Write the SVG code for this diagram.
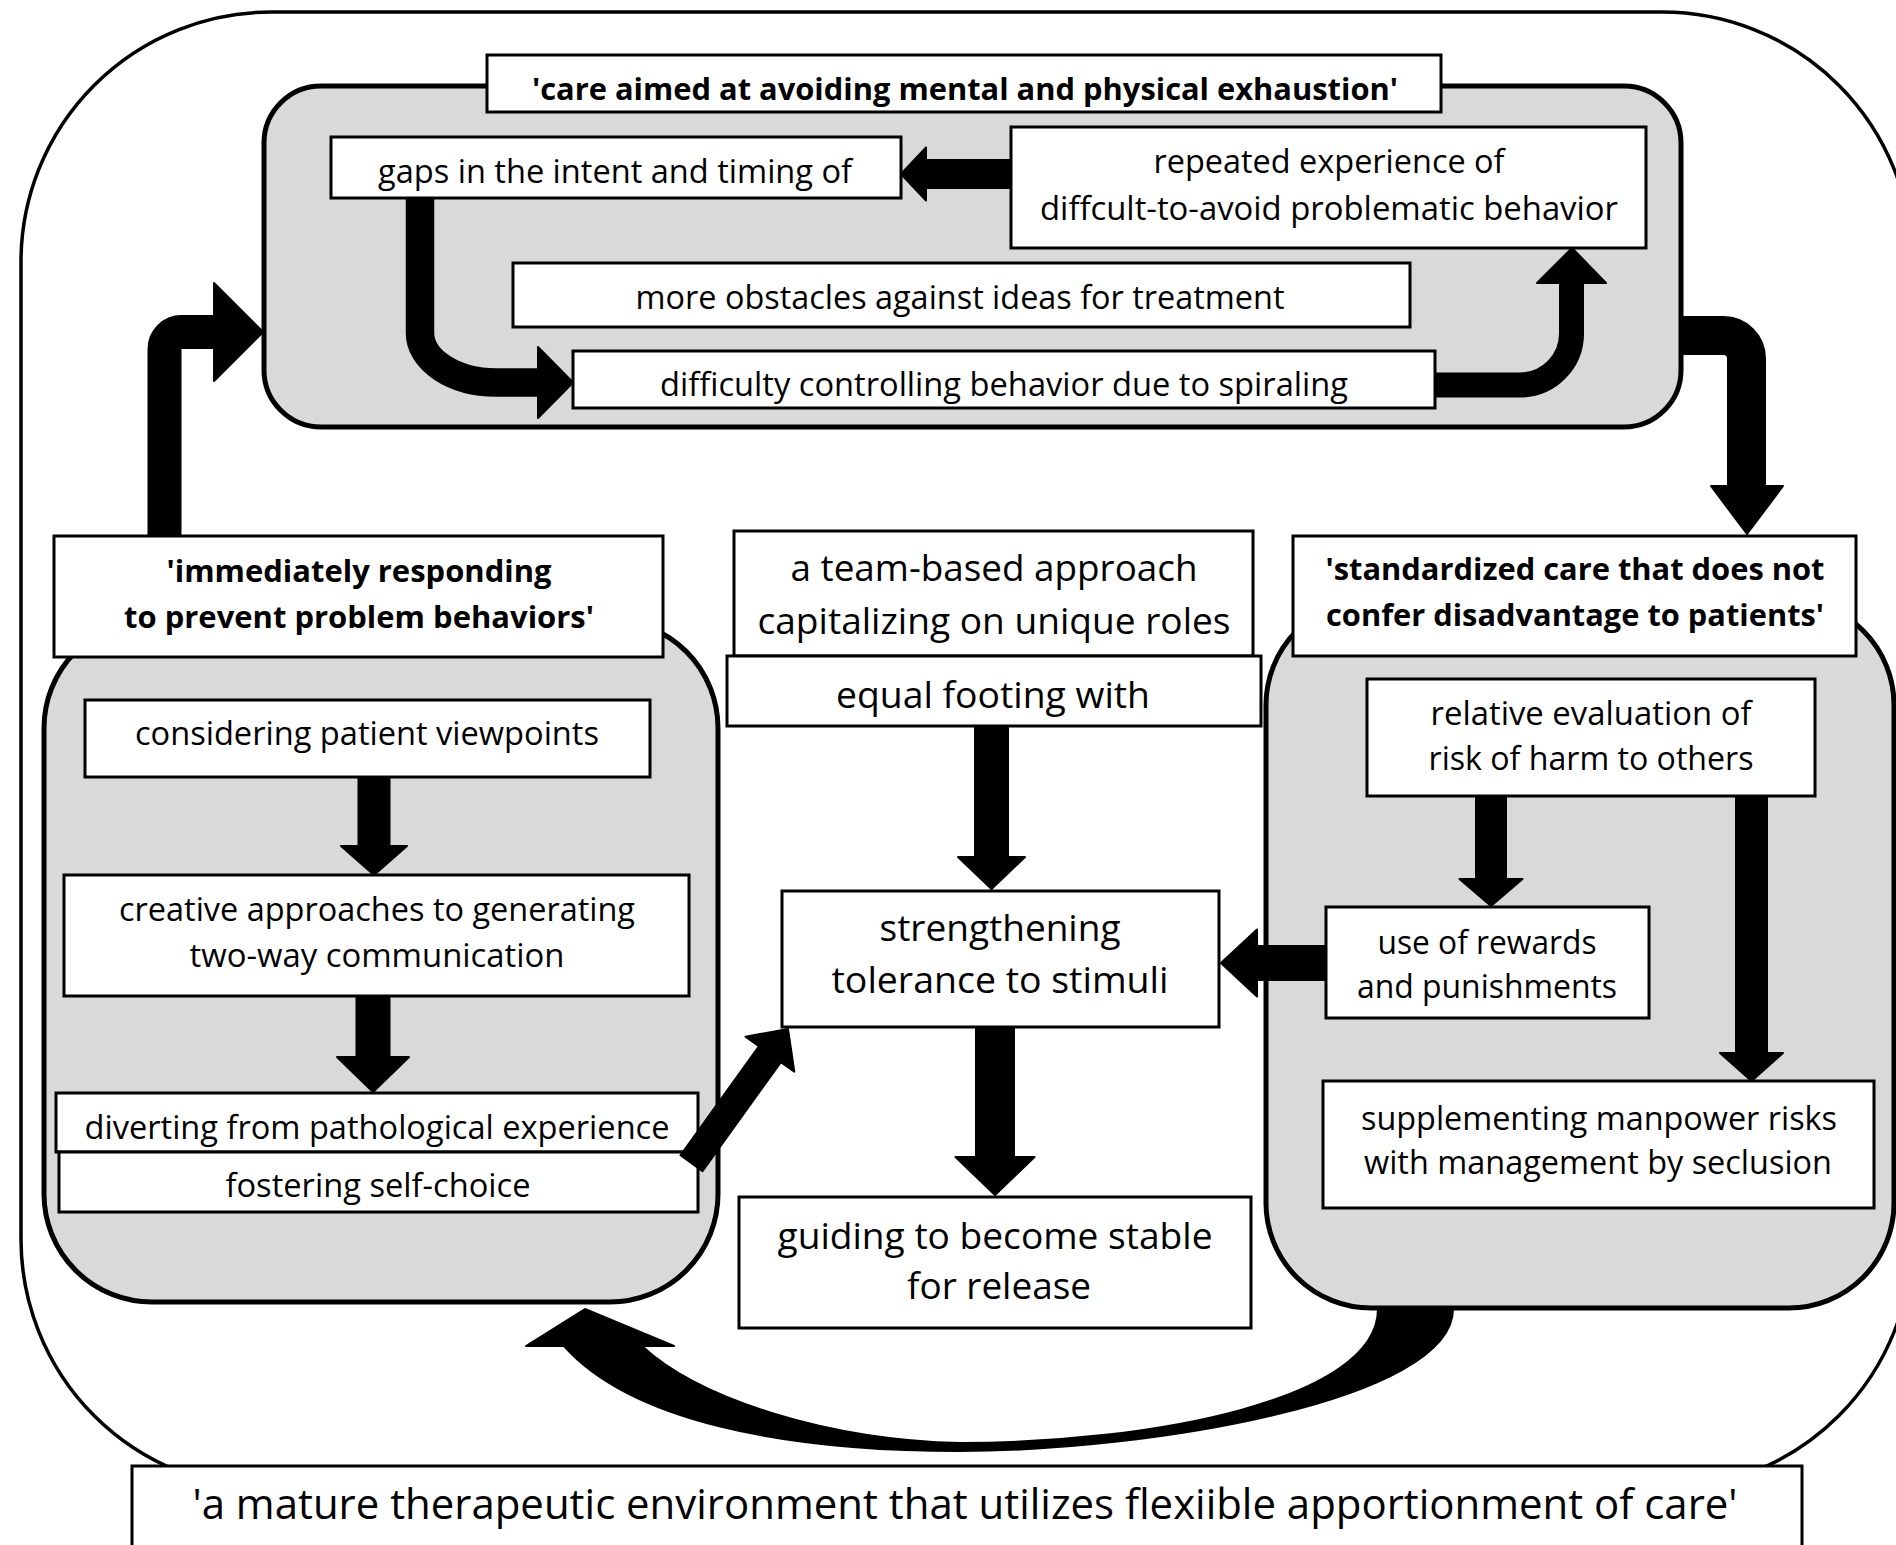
<svg xmlns="http://www.w3.org/2000/svg" width="1896" height="1545" viewBox="0 0 1896 1545">
  <style>
    .box { fill: #ffffff; stroke: #000000; stroke-width: 3; }
    .grp { fill: #d9d9d9; stroke: #000000; stroke-width: 5; }
    .frame { fill: none; stroke: #000000; stroke-width: 3.5; }
    .t { font-family: "Open Sans", "Noto Sans", sans-serif; font-size: 32.5px; text-anchor: middle; fill: #000000; }
    .b { font-weight: 700; font-size: 31px; }
    .m { font-size: 37px; }
    .big { font-size: 42px; }
    .head { fill: #000000; stroke: #000000; stroke-width: 2; stroke-linejoin: round; }
    .shaft { fill: none; stroke: #000000; stroke-linecap: butt; }
  </style>

  <rect x="0" y="0" width="1896" height="1545" fill="#ffffff"/>

  <!-- outer environment frame (runs past the right edge) -->
  <g id="frame">
    <rect class="frame" x="21" y="12" width="1891" height="1477" rx="250" ry="250"/>
  </g>

  <!-- grey clusters -->
  <g id="cluster-top"><rect class="grp" x="264" y="86" width="1417" height="341" rx="57" ry="57"/></g>
  <g id="cluster-left"><rect class="grp" x="44" y="620" width="674" height="682" rx="108" ry="108"/></g>
  <g id="cluster-right"><rect class="grp" x="1266" y="600" width="628" height="708" rx="105" ry="105"/></g>

  <!-- top cluster -->
  <g id="n-care-title">
    <rect class="box" x="487" y="55" width="954" height="57"/>
    <text class="t b" x="965" y="100" textLength="866" lengthAdjust="spacingAndGlyphs">'care aimed at avoiding mental and physical exhaustion'</text>
  </g>
  <g id="n-gaps">
    <rect class="box" x="331" y="137" width="570" height="61"/>
    <text class="t" x="615" y="183" textLength="474" lengthAdjust="spacingAndGlyphs">gaps in the intent and timing of</text>
  </g>
  <g id="n-repeated">
    <rect class="box" x="1011" y="127" width="635" height="121"/>
    <text class="t" x="1329" y="173" textLength="351" lengthAdjust="spacingAndGlyphs">repeated experience of</text>
    <text class="t" x="1329" y="220" textLength="578" lengthAdjust="spacingAndGlyphs">diffcult-to-avoid problematic behavior</text>
  </g>
  <g id="n-obstacles">
    <rect class="box" x="513" y="263" width="897" height="64"/>
    <text class="t" x="960" y="309" textLength="649" lengthAdjust="spacingAndGlyphs">more obstacles against ideas for treatment</text>
  </g>
  <g id="n-difficulty">
    <rect class="box" x="573" y="351" width="862" height="57"/>
    <text class="t" x="1004" y="396" textLength="688" lengthAdjust="spacingAndGlyphs">difficulty controlling behavior due to spiraling</text>
  </g>

  <!-- left cluster -->
  <g id="n-immediately">
    <rect class="box" x="54" y="536" width="609" height="121"/>
    <text class="t b" x="359" y="582" textLength="385" lengthAdjust="spacingAndGlyphs">'immediately responding</text>
    <text class="t b" x="359" y="628" textLength="470" lengthAdjust="spacingAndGlyphs">to prevent problem behaviors'</text>
  </g>
  <g id="n-considering">
    <rect class="box" x="85" y="700" width="565" height="77"/>
    <text class="t" x="367" y="745" textLength="464" lengthAdjust="spacingAndGlyphs">considering patient viewpoints</text>
  </g>
  <g id="n-creative">
    <rect class="box" x="64" y="875" width="625" height="121"/>
    <text class="t" x="377" y="921" textLength="516" lengthAdjust="spacingAndGlyphs">creative approaches to generating</text>
    <text class="t" x="377" y="967" textLength="375" lengthAdjust="spacingAndGlyphs">two-way communication</text>
  </g>
  <g id="n-diverting">
    <rect class="box" x="56" y="1093" width="642" height="59"/>
    <text class="t" x="377" y="1139" textLength="585" lengthAdjust="spacingAndGlyphs">diverting from pathological experience</text>
  </g>
  <g id="n-fostering">
    <rect class="box" x="59" y="1152" width="639" height="60"/>
    <text class="t" x="378" y="1197" textLength="305" lengthAdjust="spacingAndGlyphs">fostering self-choice</text>
  </g>

  <!-- centre column -->
  <g id="n-team">
    <rect class="box" x="734" y="531" width="519" height="125"/>
    <text class="t m" x="994" y="581" textLength="407" lengthAdjust="spacingAndGlyphs">a team-based approach</text>
    <text class="t m" x="994" y="634" textLength="473" lengthAdjust="spacingAndGlyphs">capitalizing on unique roles</text>
  </g>
  <g id="n-equal">
    <rect class="box" x="727" y="656" width="534" height="70"/>
    <text class="t m" x="993" y="708" textLength="314" lengthAdjust="spacingAndGlyphs">equal footing with</text>
  </g>
  <g id="n-strengthening">
    <rect class="box" x="782" y="891" width="437" height="136"/>
    <text class="t m" x="1000" y="941" textLength="241" lengthAdjust="spacingAndGlyphs">strengthening</text>
    <text class="t m" x="1000" y="993" textLength="337" lengthAdjust="spacingAndGlyphs">tolerance to stimuli</text>
  </g>
  <g id="n-guiding">
    <rect class="box" x="739" y="1197" width="512" height="131"/>
    <text class="t m" x="995" y="1249" textLength="435" lengthAdjust="spacingAndGlyphs">guiding to become stable</text>
    <text class="t m" x="999" y="1299" textLength="184" lengthAdjust="spacingAndGlyphs">for release</text>
  </g>

  <!-- right cluster -->
  <g id="n-standardized">
    <rect class="box" x="1293" y="536" width="563" height="120"/>
    <text class="t b" x="1575" y="580" textLength="499" lengthAdjust="spacingAndGlyphs">'standardized care that does not</text>
    <text class="t b" x="1575" y="626" textLength="498" lengthAdjust="spacingAndGlyphs">confer disadvantage to patients'</text>
  </g>
  <g id="n-relative">
    <rect class="box" x="1367" y="679" width="448" height="117"/>
    <text class="t" x="1591" y="725" textLength="321" lengthAdjust="spacingAndGlyphs">relative evaluation of</text>
    <text class="t" x="1591" y="770" textLength="325" lengthAdjust="spacingAndGlyphs">risk of harm to others</text>
  </g>
  <g id="n-rewards">
    <rect class="box" x="1326" y="907" width="323" height="111"/>
    <text class="t" x="1487" y="954" textLength="219" lengthAdjust="spacingAndGlyphs">use of rewards</text>
    <text class="t" x="1487" y="998" textLength="260" lengthAdjust="spacingAndGlyphs">and punishments</text>
  </g>
  <g id="n-supplementing">
    <rect class="box" x="1323" y="1081" width="551" height="127"/>
    <text class="t" x="1599" y="1130" textLength="476" lengthAdjust="spacingAndGlyphs">supplementing manpower risks</text>
    <text class="t" x="1598" y="1174" textLength="468" lengthAdjust="spacingAndGlyphs">with management by seclusion</text>
  </g>

  <!-- bottom banner -->
  <g id="n-environment">
    <rect class="box" x="132" y="1466" width="1670" height="120"/>
    <text class="t big" x="965" y="1519" textLength="1545" lengthAdjust="spacingAndGlyphs">'a mature therapeutic environment that utilizes flexiible apportionment of care'</text>
  </g>

  <!-- connectors -->
  <g id="connectors">
    <!-- inside the top cluster -->
    <polygon class="head" points="1011,160 1011,188 926,188 926,200.5 901,174 926,147.5 926,160"/>
    <path class="shaft" stroke-width="28.5" d="M420,198 V333 A76,49.5 0 0 0 496,382.5 H540"/>
    <polygon class="head" points="538,347 573,382.5 538,418"/>
    <path class="shaft" stroke-width="25" d="M1435,385 H1520 A51.5,51.5 0 0 0 1571.5,333.5 V281"/>
    <polygon class="head" points="1537,283 1572,248 1606,283"/>

    <!-- between clusters -->
    <path class="shaft" stroke-width="34" d="M164.5,536 V349 A17,17 0 0 1 181.5,332 H216"/>
    <polygon class="head" points="214,283 263,332 214,381"/>
    <path class="shaft" stroke-width="39" d="M1682,335.5 H1723.5 A23,23 0 0 1 1746.5,358.5 V488"/>
    <polygon class="head" points="1711,486 1783,486 1747,534"/>

    <!-- left cluster chain -->
    <polygon class="head" points="358.5,777 389.5,777 389.5,846 407,846 374,875 341,846 358.5,846"/>
    <polygon class="head" points="356.5,996 389.5,996 389.5,1057 409,1057 373,1092 337,1057 356.5,1057"/>
    <polygon class="head" points="680.5,1155.3 702.5,1171.1 780.9,1062.1 794.3,1071.7 788,1029 745.5,1036.7 758.9,1046.3"/>

    <!-- centre column -->
    <polygon class="head" points="975,726 1008,726 1008,857 1025,857 991.5,889 958,857 975,857"/>
    <polygon class="head" points="976,1027 1014,1027 1014,1157 1034.5,1157 995,1195 955.5,1157 976,1157"/>

    <!-- right cluster -->
    <polygon class="head" points="1476,796 1506,796 1506,879 1522.5,879 1491,906 1459.5,879 1476,879"/>
    <polygon class="head" points="1736,796 1767,796 1767,1053 1783,1053 1751.5,1081 1720,1053 1736,1053"/>
    <polygon class="head" points="1326,946 1326,980 1257,980 1257,996.5 1221,963 1257,929.5 1257,946"/>

    <!-- return sweep from the right cluster back to the left cluster -->
    <path class="head" d="M1453,1309 C1453,1400 1150,1451 960,1451 C780,1451 630,1420 564,1346 L526,1346 L585,1309 L674,1346 L642,1346 C700,1400 830,1440 960,1443 C1150,1443 1378,1400 1378,1309 Z"/>
  </g>
</svg>
